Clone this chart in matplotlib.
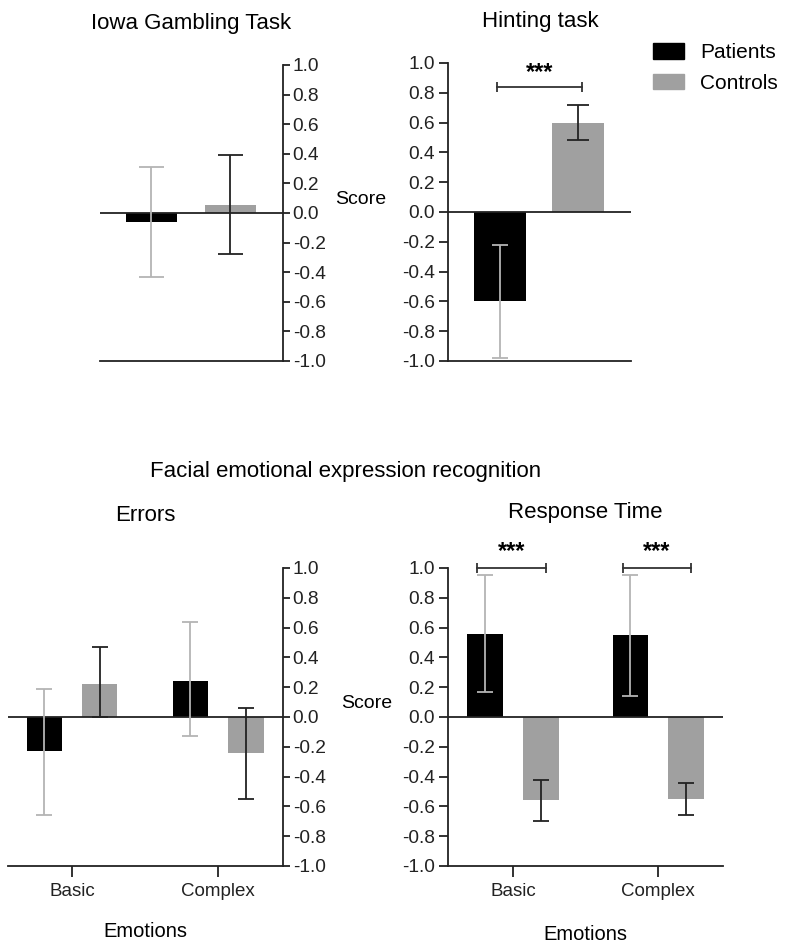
import matplotlib
matplotlib.use("Agg")
import matplotlib.pyplot as plt
import numpy as np

plt.rcParams['font.family'] = ['Liberation Sans', 'DejaVu Sans']

BLACK = '#000000'
GRAY = '#a0a0a0'
ERR_LIGHT = '#b4b4b4'

groups = ['Patients', 'Controls']

# Iowa Gambling Task
iowa_mean = [-0.06, 0.055]
iowa_lo = [-0.43, -0.28]
iowa_hi = [0.31, 0.39]

# Hinting task
hint_mean = [-0.60, 0.60]
hint_lo = [-0.98, 0.48]
hint_hi = [-0.22, 0.72]

# Facial emotion recognition: errors
emotions = ['Basic', 'Complex']
err_pat_mean = [-0.23, 0.24]
err_pat_lo = [-0.66, -0.13]
err_pat_hi = [0.19, 0.64]
err_con_mean = [0.22, -0.24]
err_con_lo = [0.0, -0.55]
err_con_hi = [0.47, 0.06]

# Facial emotion recognition: response time
rt_pat_mean = [0.56, 0.55]
rt_pat_lo = [0.17, 0.14]
rt_pat_hi = [0.95, 0.95]
rt_con_mean = [-0.56, -0.55]
rt_con_lo = [-0.70, -0.66]
rt_con_hi = [-0.42, -0.44]

yticks = [-1.0, -0.8, -0.6, -0.4, -0.2, 0.0, 0.2, 0.4, 0.6, 0.8, 1.0]
ytick_labels = ['-1.0', '-0.8', '-0.6', '-0.4', '-0.2', '0.0',
                '0.2', '0.4', '0.6', '0.8', '1.0']


def style_axis(ax, side, tick_len):
    ax.set_ylim(-1.0, 1.0)
    ax.set_yticks(yticks)
    ax.set_yticklabels(ytick_labels)
    for s in ['top', 'left', 'right']:
        ax.spines[s].set_visible(False)
    ax.spines[side].set_visible(True)
    ax.spines[side].set_linewidth(1.3)
    ax.spines[side].set_color('#222222')
    ax.spines['bottom'].set_linewidth(1.3)
    ax.spines['bottom'].set_color('#222222')
    if side == 'right':
        ax.yaxis.tick_right()
        pad = 2
    else:
        ax.yaxis.tick_left()
        pad = 3
    ax.tick_params(axis='y', direction='out', length=tick_len, width=1.3,
                   labelsize=13.8, pad=pad, colors='#222222')
    ax.axhline(0, color='#222222', lw=1.3, zorder=3)


def bars(ax, x, means, lo, hi, color, ecolor, width, capsize):
    means = np.array(means)
    yerr = [means - np.array(lo), np.array(hi) - means]
    ax.bar(x, means, width=width, color=color, zorder=2)
    ax.errorbar(x, means, yerr=yerr, fmt='none', ecolor=ecolor,
                elinewidth=1.3, capsize=capsize, capthick=1.3, zorder=4)


def bracket(ax, x0, x1, y, ystar):
    ax.errorbar([x0, x1], [y, y], yerr=0.035, fmt='none', ecolor='#333333',
                elinewidth=1.3, capsize=0, zorder=5, clip_on=False)
    ax.plot([x0, x1], [y, y], color='#333333', lw=1.3, clip_on=False)
    ax.text((x0 + x1) / 2, ystar, '***', ha='center', va='center',
            fontsize=17, fontweight='bold', clip_on=False)


fig = plt.figure(figsize=(7.87, 9.51), dpi=100)

# --- Iowa Gambling Task ---
ax1 = fig.add_axes([0.127, 0.6204, 0.2325, 0.3113])
style_axis(ax1, 'right', 5)
bars(ax1, [0], iowa_mean[:1], iowa_lo[:1], iowa_hi[:1], BLACK, ERR_LIGHT, 0.65, 9)
bars(ax1, [1], iowa_mean[1:], iowa_lo[1:], iowa_hi[1:], GRAY, '#222222', 0.65, 9)
ax1.set_xlim(-0.652, 1.665)
ax1.set_xticks([])
fig.text(191 / 787, 1 - 23 / 951, 'Iowa Gambling Task', ha='center', va='center', fontsize=16)

# --- Hinting task ---
ax2 = fig.add_axes([0.5693, 0.6204, 0.2325, 0.3134])
style_axis(ax2, 'left', 6.5)
bars(ax2, [0], hint_mean[:1], hint_lo[:1], hint_hi[:1], BLACK, ERR_LIGHT, 0.667, 5.8)
bars(ax2, [1], hint_mean[1:], hint_lo[1:], hint_hi[1:], GRAY, '#222222', 0.667, 8)
ax2.set_xlim(-0.667, 1.68)
ax2.set_xticks([])
bracket(ax2, -0.04, 1.05, 0.84, 0.935)
fig.text(540 / 787, 1 - 22 / 951, 'Hinting task', ha='center', va='center', fontsize=16)
fig.text(361 / 787, 1 - 199 / 951, 'Score', ha='center', va='center', fontsize=14)

# legend
handles = [plt.Rectangle((0, 0), 1, 1, color=BLACK), plt.Rectangle((0, 0), 1, 1, color=GRAY)]
fig.legend(handles, groups, loc='upper left', bbox_to_anchor=(645 / 787, 1 - 35 / 951),
           frameon=False, fontsize=15, handlelength=1.45, handleheight=0.75,
           handletextpad=0.8, labelspacing=0.55, borderaxespad=0)

fig.text(346 / 787, 1 - 472 / 951, 'Facial emotional expression recognition',
         ha='center', va='center', fontsize=16)

# --- Errors ---
x = np.arange(len(emotions))
off = 0.19
ax3 = fig.add_axes([0.0102, 0.0894, 0.3494, 0.3134])
style_axis(ax3, 'right', 5)
bars(ax3, x - off, err_pat_mean, err_pat_lo, err_pat_hi, BLACK, ERR_LIGHT, 0.243, 6)
bars(ax3, x + off, err_con_mean, err_con_lo, err_con_hi, GRAY, '#222222', 0.243, 6)
ax3.set_xlim(-0.438, 1.445)
ax3.set_xticks(x)
ax3.set_xticklabels(emotions)
ax3.tick_params(axis='x', direction='out', length=8, width=1.3, labelsize=13.5,
                pad=4, colors='#222222')
ax3.set_xlabel('Emotions', fontsize=14.5, labelpad=16)
ax3.set_title('Errors', fontsize=16, pad=34)
fig.text(367 / 787, 1 - 703 / 951, 'Score', ha='center', va='center', fontsize=14)

# --- Response Time ---
ax4 = fig.add_axes([0.5693, 0.0894, 0.3494, 0.3134])
style_axis(ax4, 'left', 6.5)
bars(ax4, x - off, rt_pat_mean, rt_pat_lo, rt_pat_hi, BLACK, ERR_LIGHT, 0.248, 6)
bars(ax4, x + off, rt_con_mean, rt_con_lo, rt_con_hi, GRAY, '#222222', 0.248, 6)
ax4.set_xlim(-0.448, 1.448)
ax4.set_xticks(x)
ax4.set_xticklabels(emotions)
ax4.tick_params(axis='x', direction='out', length=8, width=1.3, labelsize=13.5,
                pad=4, colors='#222222')
ax4.set_xlabel('Emotions', fontsize=14.5, labelpad=18)
ax4.set_title('Response Time', fontsize=16, pad=36)
for xi in x:
    bracket(ax4, xi - 0.245, xi + 0.23, 1.0, 1.11)

fig.savefig('out.png', dpi=100)
